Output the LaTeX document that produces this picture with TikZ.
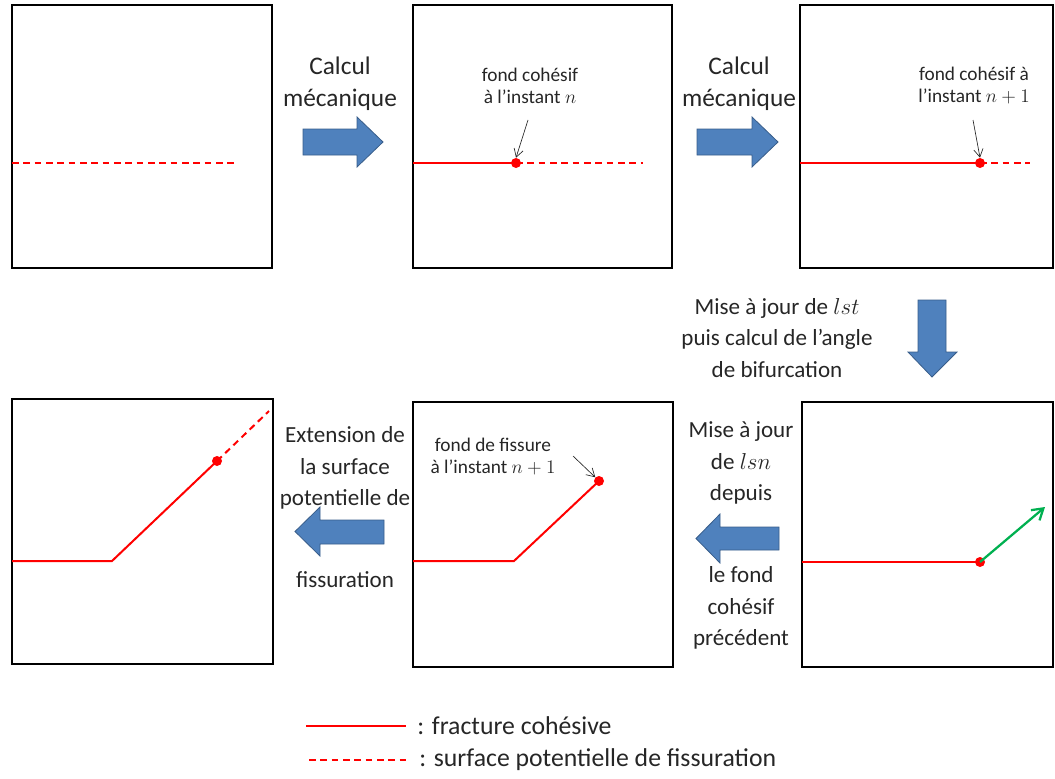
\documentclass[tikz,border=0pt]{standalone}
\usepackage{fontspec}
\setmainfont{Carlito}
\usetikzlibrary{arrows.meta}
\definecolor{blockblue}{HTML}{4F81BD}
\definecolor{blockedge}{HTML}{385D8A}
\definecolor{crackred}{HTML}{FF0000}
\definecolor{dirgreen}{HTML}{00B050}
\definecolor{textgray}{HTML}{262626}
\tikzset{
  panel/.style={draw=black, line width=1.9pt},
  cohesive/.style={draw=crackred, line width=1.5pt},
  potential/.style={draw=crackred, line width=1.5pt, dash pattern=on 5pt off 3.5pt},
  tipdot/.style={circle, fill=crackred, inner sep=0pt, minimum size=7.5pt},
  blockarrow/.style={fill=blockblue, draw=blockedge, line width=0.6pt},
  steptext/.style={align=center, text=textgray, font=\fontsize{17.3}{23.5}\selectfont, inner sep=0pt},
  calctext/.style={steptext, font=\fontsize{19}{24}\selectfont},
  smalltext/.style={align=center, text=textgray, font=\fontsize{14.5}{16.5}\selectfont, inner sep=0pt},
  pointer/.style={draw=textgray, line width=0.5pt, -{Straight Barb[length=6pt,width=7pt]}},
  legendtext/.style={anchor=west, text=textgray, font=\fontsize{19.3}{22}\selectfont, inner sep=0pt}
}
\begin{document}
\begin{tikzpicture}[x=0.75pt,y=-0.75pt]
\useasboundingbox (0,0) rectangle (1055,778);

% ---- panels
\draw[panel] (12,5) rectangle (272,268);
\draw[panel] (413,5) rectangle (672,268);
\draw[panel] (800,5) rectangle (1053,268);
\draw[panel] (12,399) rectangle (273,664);
\draw[panel] (413,402) rectangle (673,667);
\draw[panel] (802,402) rectangle (1053,667);

% ---- panel 1: potential surface only
\coordinate (p1a) at (12,163);
\coordinate (p1b) at (237,163);
\draw[potential] (p1a) -- (p1b);

% ---- panel 2: cohesive front at step n
\coordinate (p2a) at (413,163);
\coordinate (p2e) at (643,163);
\node[tipdot] (tip2) at (516,163) {};
\draw[cohesive] (p2a) -- (tip2.center);
\draw[potential] (tip2.center) -- (p2e);
\node[smalltext] (lab2) at (530,86) {fond cohésif\\à l’instant $n$};
\coordinate (ptr2) at (528,120);
\draw[pointer] (ptr2) -- (tip2.north);

% ---- panel 3: cohesive front at step n+1
\coordinate (p3a) at (800,163);
\coordinate (p3e) at (1030,163);
\node[tipdot] (tip3) at (980,163) {};
\draw[cohesive] (p3a) -- (tip3.center);
\draw[potential] (tip3.center) -- (p3e);
\node[smalltext] (lab3) at (974,86) {fond cohésif à\\l’instant $n+1$};
\coordinate (ptr3) at (973,120);
\draw[pointer] (ptr3) -- (tip3.north);

% ---- panel 6: bifurcation direction
\coordinate (p6a) at (802,562);
\node[tipdot] (tip6) at (980,562) {};
\coordinate (dir6) at (1045,507);
\draw[cohesive] (p6a) -- (tip6.center);
\draw[draw=dirgreen, line width=1.7pt, -{Straight Barb[length=8pt,width=10pt]}] (tip6.center) -- (dir6);

% ---- panel 5: kinked crack, new front
\coordinate (p5a) at (413,561);
\coordinate (p5k) at (514,561);
\node[tipdot] (tip5) at (599,481) {};
\draw[cohesive] (p5a) -- (p5k) -- (tip5.center);
\node[smalltext] (lab5) at (493,457) {fond de fissure\\à l’instant $n+1$};
\coordinate (ptr5) at (573,456);
\draw[pointer] (ptr5) -- (tip5.north west);

% ---- panel 4: extended potential surface
\coordinate (p4a) at (12,561);
\coordinate (p4k) at (112,561);
\node[tipdot] (tip4) at (217,461) {};
\coordinate (p4e) at (269,411);
\draw[cohesive] (p4a) -- (p4k) -- (tip4.center);
\draw[potential] (tip4.center) -- (p4e);

% ---- block arrows between the steps
\draw[blockarrow] (303,129) -- (357,129) -- (357,117) -- (383,142) -- (357,167) -- (357,155) -- (303,155) -- cycle;
\draw[blockarrow] (697,129) -- (752,129) -- (752,117) -- (778,142) -- (752,167) -- (752,155) -- (697,155) -- cycle;
\draw[blockarrow] (918,300) -- (946,300) -- (946,352) -- (957,352) -- (932,377) -- (908,352) -- (918,352) -- cycle;
\draw[blockarrow] (779,527) -- (720,527) -- (720,514) -- (696,538.5) -- (720,563) -- (720,550) -- (779,550) -- cycle;
\draw[blockarrow] (384,520) -- (320,520) -- (320,507) -- (295,531.5) -- (320,556) -- (320,544) -- (384,544) -- cycle;

% ---- step descriptions
\node[calctext] (s1) at (340,84) {Calcul\\mécanique};
\node[calctext] (s2) at (739,84) {Calcul\\mécanique};
\node[steptext] (s3) at (777,338) {Mise à jour de $lst$\\puis calcul de l’angle\\de bifurcation};
\node[steptext] (s4a) at (741,463) {Mise à jour\\de $lsn$\\depuis};
\node[steptext] (s4b) at (741,608) {le fond\\cohésif\\précédent};
\node[steptext] (s5a) at (345,468) {Extension de\\la surface\\potentielle de};
\node[steptext] (s5b) at (345,580) {fissuration};

% ---- legend
\coordinate (l1a) at (306,726);
\coordinate (l1b) at (406,726);
\coordinate (l2a) at (309,760);
\coordinate (l2b) at (407,760);
\draw[cohesive] (l1a) -- (l1b);
\draw[potential] (l2a) -- (l2b);
\node[legendtext] (t1) at (417,726) {: fracture cohésive};
\node[legendtext] (t2) at (419,760) {: surface potentielle de fissuration};
\end{tikzpicture}
\end{document}
